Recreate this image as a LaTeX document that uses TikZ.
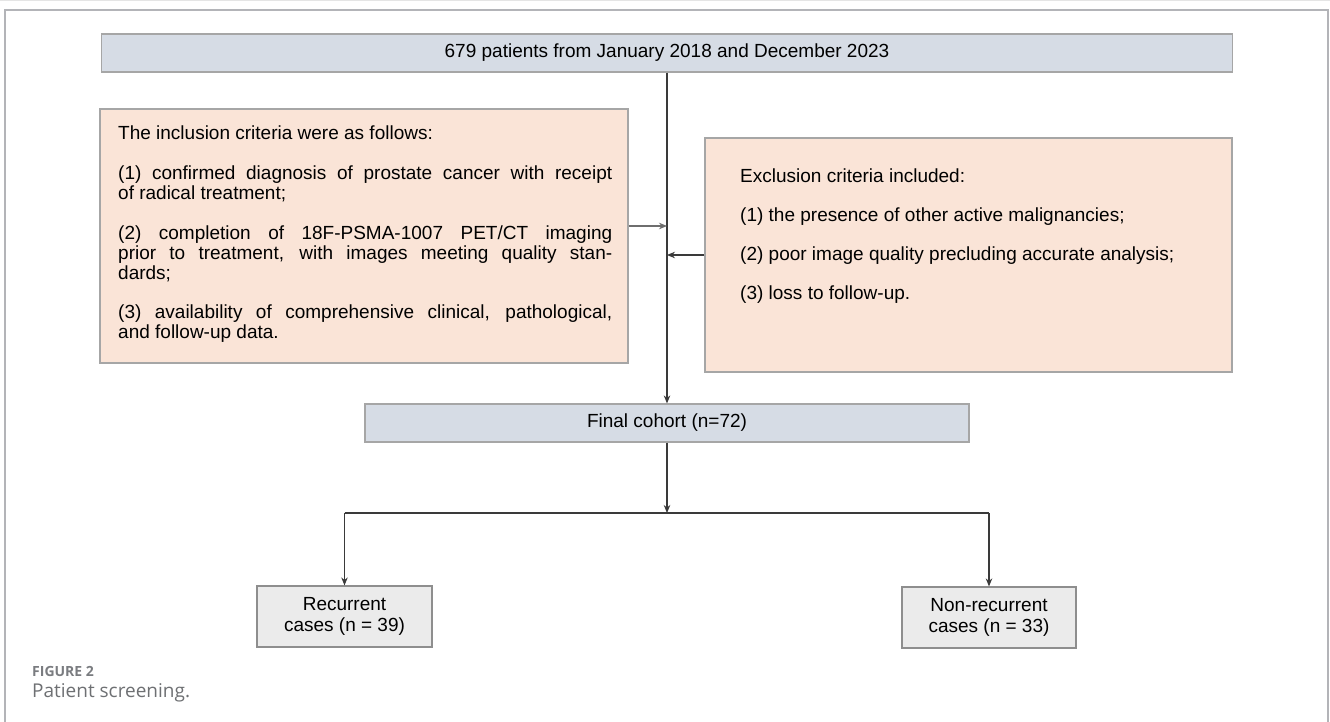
\documentclass[tikz,border=0pt]{standalone}
\usepackage{fontspec}
\setmainfont{Liberation Sans}
\newfontfamily\capfont{Open Sans}
\usetikzlibrary{arrows.meta}
\definecolor{bluegray}{HTML}{D6DCE5}
\definecolor{peach}{HTML}{FAE4D7}
\definecolor{lgray}{HTML}{EBEBEB}
\definecolor{boxedge}{HTML}{A6A6A6}
\definecolor{darkedge}{HTML}{8E8E8E}
\definecolor{framegray}{HTML}{B3B4B8}
\definecolor{capgray}{HTML}{7A7C80}
\definecolor{lineclr}{HTML}{3A3A3A}
\definecolor{softline}{HTML}{6E6E6E}
\newcommand\mainfs{\fontsize{19}{20}\selectfont}
\newcommand\boxfs{\fontsize{19}{21}\selectfont}
\begin{document}
\begin{tikzpicture}[x=1pt,y=-1pt,
  bluebox/.style={draw=boxedge, line width=1.2pt, fill=bluegray, inner sep=0pt, font=\mainfs},
  peachbox/.style={draw=boxedge, line width=1.2pt, fill=peach, inner sep=0pt},
  graybox/.style={draw=darkedge, line width=1.2pt, fill=lgray, inner sep=0pt, font=\boxfs, align=center},
  txtblock/.style={inner sep=0pt, font=\mainfs},
  conn/.style={draw=lineclr, line width=1.1pt},
  arr/.style={conn, -{Stealth[length=8pt,width=6.5pt]}},
]
\fill[white] (0,0) rectangle (1330,722);
\useasboundingbox (0,0) rectangle (1330,722);
\draw[draw=black!10, line width=1.5pt] (0,0.75) -- (1330,0.75);
\draw[draw=framegray, line width=1.5pt] (5,722) -- (5,10) -- (1328,10) -- (1328,722);

% boxes
\node[bluebox, minimum width=1131pt, minimum height=38pt] (top) at (667,53) {679 patients from January 2018 and December 2023};
\node[peachbox, minimum width=528pt, minimum height=254pt] (inc) at (364,236) {};
\node[peachbox, minimum width=527pt, minimum height=234pt] (exc) at (968.5,255) {};
\node[bluebox, minimum width=604pt, minimum height=38pt] (final) at (667,423) {Final cohort (n=72)};
\node[graybox, minimum width=175pt, minimum height=61pt] (rec) at (344.5,616.5) {Recurrent\\cases (n = 39)};
\node[graybox, minimum width=174pt, minimum height=61pt] (non) at (989,617.5) {Non-recurrent\\cases (n = 33)};

% texts inside criteria boxes
\node[txtblock, anchor=north west, text width=494pt, align=justify] (inctxt) at (118,126) {%
\hyphenpenalty=10000\tolerance=9999\emergencystretch=0pt
The inclusion criteria were as follows:\par\vspace{20pt}
(1) confirmed diagnosis of prostate cancer with receipt\linebreak of radical treatment;\par\vspace{20pt}
(2) completion of 18F-PSMA-1007 PET/CT imaging\linebreak prior to treatment, with images meeting quality stan-\linebreak dards;\par\vspace{19pt}
(3) availability of comprehensive clinical, pathological,\linebreak and follow-up data.};
\node[txtblock, anchor=north west, align=left] (exctxt) at (740,169) {%
Exclusion criteria included:\\[19pt]
(1) the presence of other active malignancies;\\[19pt]
(2) poor image quality precluding accurate analysis;\\[19pt]
(3) loss to follow-up.};

% connectors
\coordinate (j1) at (667,226);
\coordinate (j2) at (667,255);
\coordinate (split) at (667,513);
\draw[arr] (top.south) -- (final.north);
\draw[arr, draw=softline] (inc.east |- j1) -- (j1);
\draw[arr] (exc.west |- j2) -- (j2);
\draw[arr] (final.south) -- (split);
\draw[conn] (rec.north |- split) -- (non.north |- split);
\draw[arr] (rec.north |- split) -- (rec.north);
\draw[arr] (non.north |- split) -- (non.north);

% caption
\node[inner sep=0pt, anchor=west, text=capgray, font=\capfont\bfseries\fontsize{14}{14}\selectfont] (figlabel) at (32,671) {FIGURE 2};
\node[inner sep=0pt, anchor=west, text=capgray!90!black, font=\capfont\fontsize{19}{19}\selectfont] (figcap) at (32,693) {Patient screening.};
\end{tikzpicture}
\end{document}
